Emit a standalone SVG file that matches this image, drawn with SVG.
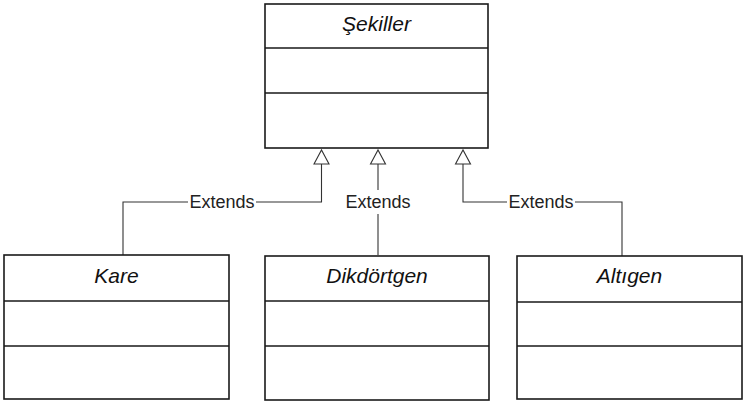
<svg xmlns="http://www.w3.org/2000/svg" width="748" height="407" viewBox="0 0 748 407">
<defs>
<style>
.box{fill:#fff;stroke:#1a1a1a;stroke-width:1.6}
.div{fill:none;stroke:#1a1a1a;stroke-width:1.6}
.title{font-family:"Liberation Sans",Arial,sans-serif;font-style:italic;font-size:21px;fill:#111;text-anchor:middle}
.conn{fill:none;stroke:#333;stroke-width:1.1}
.lbl{font-family:"Liberation Sans",Arial,sans-serif;font-size:18px;fill:#222;text-anchor:middle}
.lblbg{fill:#fff}
</style>
<marker id="tri" markerWidth="18" markerHeight="16" refX="8" refY="1" orient="auto-start-reverse" markerUnits="userSpaceOnUse" viewBox="0 0 18 16">
<path d="M8 1 L15.5 15 L0.5 15 Z" fill="#fff" stroke="#333" stroke-width="1.1"/>
</marker>
</defs>
<rect width="748" height="407" fill="#fff"/>
<g id="connectors">
<path class="conn" d="M123 255 V202 H321.5 V164"/>
<path class="conn" d="M378 255 V164"/>
<path class="conn" d="M622 256 V202 H463 V164"/>
<path d="M314 164 L321.5 150 L329 164 Z" fill="#fff" stroke="#333" stroke-width="1.1"/>
<path d="M370.5 164 L378 150 L385.5 164 Z" fill="#fff" stroke="#333" stroke-width="1.1"/>
<path d="M455.5 164 L463 150 L470.5 164 Z" fill="#fff" stroke="#333" stroke-width="1.1"/>
<rect class="lblbg" x="188" y="192" width="68" height="20"/>
<text class="lbl" x="222" y="208">Extends</text>
<rect class="lblbg" x="344" y="190" width="68" height="24"/>
<text class="lbl" x="378" y="208">Extends</text>
<rect class="lblbg" x="507" y="192" width="68" height="20"/>
<text class="lbl" x="541" y="208">Extends</text>
</g>
<g id="sekiller">
<rect class="box" x="265" y="4" width="223" height="144"/>
<path class="div" d="M265 48 H488 M265 93 H488"/>
<text class="title" x="376.5" y="31">Şekiller</text>
</g>
<g id="kare">
<rect class="box" x="4" y="255" width="225" height="144"/>
<path class="div" d="M4 301 H229 M4 346 H229"/>
<text class="title" x="116.5" y="283">Kare</text>
</g>
<g id="dikdortgen">
<rect class="box" x="265" y="256" width="224" height="144"/>
<path class="div" d="M265 301 H489 M265 346 H489"/>
<text class="title" x="377" y="283">Dikdörtgen</text>
</g>
<g id="altigen">
<rect class="box" x="517" y="256" width="225" height="143"/>
<path class="div" d="M517 302 H742 M517 346 H742"/>
<text class="title" x="629.5" y="283">Altıgen</text>
</g>
</svg>
